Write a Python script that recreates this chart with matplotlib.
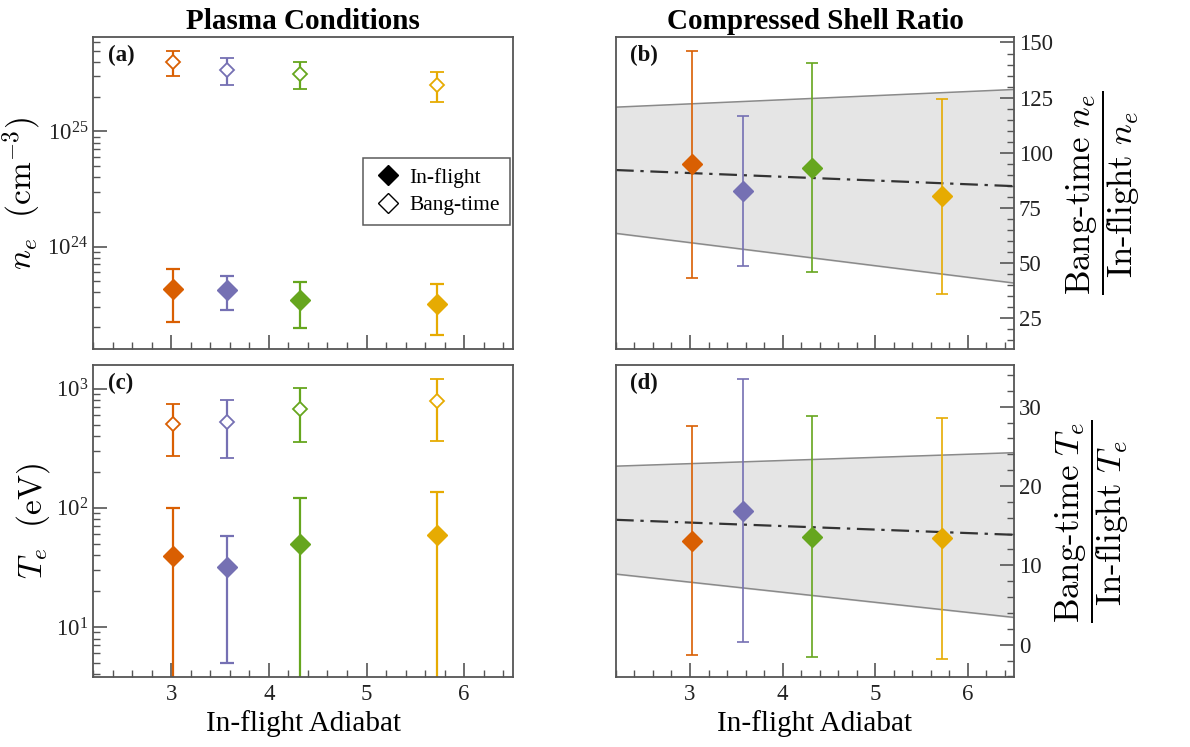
"""Plasma conditions and compressed shell ratio vs in-flight adiabat."""

import matplotlib

matplotlib.use("Agg")
import matplotlib.pyplot as plt
from matplotlib.lines import Line2D
from matplotlib.ticker import AutoMinorLocator, MultipleLocator, LogLocator, NullFormatter

# ---- data ----
adiabat = [3.02, 3.57, 4.32, 5.72]
colors = ["#d95f02", "#7570b3", "#66a61e", "#e6ab02"]

ne_inflight = [4.26e23, 4.17e23, 3.42e23, 3.19e23]
ne_inflight_lo = [2.21e23, 2.83e23, 1.95e23, 1.72e23]
ne_inflight_hi = [6.4e23, 5.52e23, 4.9e23, 4.71e23]
ne_bang = [4.0e25, 3.42e25, 3.16e25, 2.53e25]
ne_bang_lo = [3.03e25, 2.53e25, 2.32e25, 1.80e25]
ne_bang_hi = [5.0e25, 4.3e25, 4.0e25, 3.28e25]

te_inflight = [39.1, 31.6, 50.1, 59.3]
te_inflight_lo = [1.0, 5.0, 1.0, 1.0]
te_inflight_hi = [99.4, 58.2, 122.0, 135.5]
te_bang = [505, 525, 680, 789]
te_bang_lo = [274, 260, 355, 368]
te_bang_hi = [743, 800, 1013, 1205]

ne_ratio = [94.9, 82.5, 93.2, 80.3]
ne_ratio_lo = [43.4, 48.5, 45.8, 36.1]
ne_ratio_hi = [146.2, 116.6, 140.6, 124.3]
te_ratio = [13.06, 16.9, 13.6, 13.4]
te_ratio_lo = [-1.35, 0.3, -1.5, -1.76]
te_ratio_hi = [27.6, 33.5, 28.8, 28.6]

# linear fits with uncertainty band, evaluated at the x-limits
fit_x = [2.2, 6.5]
ne_fit = [92.2, 84.9]
ne_band_hi = [120.7, 128.7]
ne_band_lo = [63.5, 41.0]
te_fit = [15.74, 13.85]
te_band_hi = [22.5, 24.2]
te_band_lo = [8.9, 3.44]

plt.rcParams["font.family"] = ["Liberation Serif", "DejaVu Serif"]
plt.rcParams["mathtext.fontset"] = "cm"

SPINE = "#555555"


def style(ax, right=False):
    for s in ax.spines.values():
        s.set_color(SPINE)
        s.set_linewidth(1.3)
    ax.set_xlim(2.2, 6.5)
    ax.xaxis.set_major_locator(MultipleLocator(1))
    ax.xaxis.set_minor_locator(AutoMinorLocator(5))
    ax.tick_params(which="both", direction="in", colors=SPINE, labelcolor="#222222",
                   labelsize=16.5, top=False, right=right, left=not right,
                   labelleft=not right, labelright=right)
    ax.tick_params(which="major", length=10, width=1.2)
    ax.tick_params(which="minor", length=5, width=1.0)
    ax.tick_params(axis="x", which="major", pad=5)


def errs(v, lo, hi):
    return [[a - b for a, b in zip(v, lo)], [c - a for a, c in zip(v, hi)]]


fig = plt.figure(figsize=(11.9, 7.47), dpi=100)
ax_a = fig.add_axes([0.0782, 0.5328, 0.3529, 0.4177])
ax_c = fig.add_axes([0.0782, 0.0937, 0.3529, 0.4177])
ax_b = fig.add_axes([0.5176, 0.5328, 0.3345, 0.4177])
ax_d = fig.add_axes([0.5176, 0.0937, 0.3345, 0.4177])

# (a) electron density
for i, c in enumerate(colors):
    x = [adiabat[i]]
    ax_a.errorbar(x, [ne_bang[i]], yerr=errs([ne_bang[i]], [ne_bang_lo[i]], [ne_bang_hi[i]]),
                  fmt="D", ms=7, mfc="white", mec=c, mew=1.3, color=c, elinewidth=1.6,
                  capsize=5, capthick=1.6)
    ax_a.errorbar(x, [ne_inflight[i]],
                  yerr=errs([ne_inflight[i]], [ne_inflight_lo[i]], [ne_inflight_hi[i]]),
                  fmt="D", ms=10, color=c, elinewidth=1.6, capsize=5, capthick=1.6)
ax_a.set_yscale("log")
ax_a.set_ylim(1.29e23, 6.6e25)

# (c) electron temperature
for i, c in enumerate(colors):
    x = [adiabat[i]]
    ax_c.errorbar(x, [te_bang[i]], yerr=errs([te_bang[i]], [te_bang_lo[i]], [te_bang_hi[i]]),
                  fmt="D", ms=7, mfc="white", mec=c, mew=1.3, color=c, elinewidth=1.6,
                  capsize=5, capthick=1.6)
    ax_c.errorbar(x, [te_inflight[i]],
                  yerr=errs([te_inflight[i]], [te_inflight_lo[i]], [te_inflight_hi[i]]),
                  fmt="D", ms=10, color=c, elinewidth=1.6, capsize=5, capthick=1.6)
ax_c.set_yscale("log")
ax_c.set_ylim(3.8, 1585)

for ax in (ax_a, ax_c):
    style(ax)
    ax.yaxis.set_major_locator(LogLocator(base=10, numticks=10))
    ax.yaxis.set_minor_locator(LogLocator(base=10, subs=range(2, 10), numticks=20))
    ax.yaxis.set_minor_formatter(NullFormatter())

# (b) and (d) ratios with fit band
for ax, v, lo, hi, fit, bhi, blo in (
    (ax_b, ne_ratio, ne_ratio_lo, ne_ratio_hi, ne_fit, ne_band_hi, ne_band_lo),
    (ax_d, te_ratio, te_ratio_lo, te_ratio_hi, te_fit, te_band_hi, te_band_lo),
):
    ax.fill_between(fit_x, blo, bhi, color="#e5e5e5", zorder=0)
    ax.plot(fit_x, bhi, color="#8a8a8a", lw=1.1, zorder=1)
    ax.plot(fit_x, blo, color="#8a8a8a", lw=1.1, zorder=1)
    ax.plot(fit_x, fit, color="#333333", lw=1.6, ls=(0, (8, 3, 1.5, 3)), zorder=2)
    for i, c in enumerate(colors):
        ax.errorbar([adiabat[i]], [v[i]], yerr=errs([v[i]], [lo[i]], [hi[i]]),
                    fmt="D", ms=10, color=c, elinewidth=1.2, capsize=4.5, capthick=1.2,
                    zorder=3)
    style(ax, right=True)
    ax.yaxis.set_label_position("right")

ax_b.set_ylim(11.1, 152.5)
ax_b.yaxis.set_major_locator(MultipleLocator(25))
ax_b.yaxis.set_minor_locator(MultipleLocator(5))
ax_d.set_ylim(-4.07, 35.25)
ax_d.yaxis.set_major_locator(MultipleLocator(10))
ax_d.yaxis.set_minor_locator(MultipleLocator(2))

for ax in (ax_a, ax_b):
    ax.tick_params(labelbottom=False)
for ax in (ax_c, ax_d):
    ax.set_xlabel("In-flight Adiabat", fontsize=21, labelpad=4)

ax_a.set_ylabel(r"$n_e\ \ (\mathrm{cm}^{-3})$", fontsize=24, labelpad=3)
ax_c.set_ylabel(r"$T_e\ \ (\mathrm{eV})$", fontsize=24, labelpad=3)
ax_b.set_ylabel(r"$\dfrac{\mathrm{Bang\text{-}time}\ n_e}{\mathrm{In\text{-}flight}\ n_e}$",
                fontsize=25, rotation=90, labelpad=8)
ax_d.set_ylabel(r"$\dfrac{\mathrm{Bang\text{-}time}\ T_e}{\mathrm{In\text{-}flight}\ T_e}$",
                fontsize=25, rotation=90, labelpad=8)

ax_a.set_title("Plasma Conditions", fontsize=21, fontweight="bold", pad=6)
ax_b.set_title("Compressed Shell Ratio", fontsize=21, fontweight="bold", pad=6)

for ax, lab in ((ax_a, "(a)"), (ax_b, "(b)"), (ax_c, "(c)"), (ax_d, "(d)")):
    ax.text(0.035, 0.975, lab, transform=ax.transAxes, ha="left", va="top",
            fontsize=16.5, fontweight="bold", color="#111111")

handles = [
    Line2D([], [], ls="none", marker="D", ms=10, color="black", label="In-flight"),
    Line2D([], [], ls="none", marker="D", ms=10, mfc="white", mec="black", mew=1.0,
           label="Bang-time"),
]
leg = ax_a.legend(handles=handles, loc="upper left", bbox_to_anchor=(0.643, 0.612),
                  borderaxespad=0, fontsize=15.5, frameon=True, fancybox=False,
                  handletextpad=0.3, handlelength=1.4, borderpad=0.45, labelspacing=0.35)
leg.get_frame().set_edgecolor("#333333")
leg.get_frame().set_linewidth(1.1)

fig.savefig("out.png", dpi=100, facecolor="white")
